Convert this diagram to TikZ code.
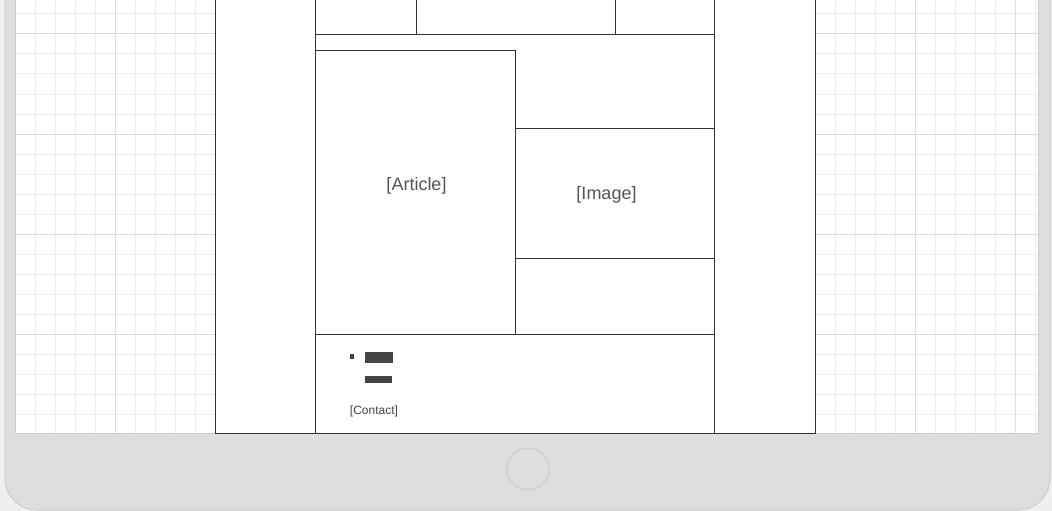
\documentclass[tikz,border=0pt]{standalone}
\usepackage{fontspec}
\setmainfont{Liberation Sans}
\definecolor{bgout}{HTML}{EFEFEF}
\definecolor{framefill}{HTML}{DEDEDE}
\definecolor{frameline}{HTML}{CCCCCC}
\definecolor{gridminor}{HTML}{ECECEC}
\definecolor{gridmajor}{HTML}{DCDCDC}
\definecolor{wire}{HTML}{333333}
\definecolor{labelcol}{HTML}{555555}
\definecolor{barcol}{HTML}{444444}
\tikzset{
  wireline/.style={draw=wire, line width=1pt},
  biglabel/.style={text=labelcol, font=\fontsize{18}{21}\selectfont, inner sep=0pt},
  smalllabel/.style={text=barcol, font=\fontsize{12}{14}\selectfont, inner sep=0pt},
  barblock/.style={fill=barcol},
}
\begin{document}
\begin{tikzpicture}[x=1pt,y=-1pt]
\useasboundingbox (0,0) rectangle (1052,511);
\clip (0,0) rectangle (1052,511);
% outer background
\fill[bgout] (0,0) rectangle (1052,511);
% tablet frame
\draw[frameline, fill=framefill, line width=1pt, rounded corners=32] (5,-60) rectangle (1050,510);
% screen
\fill[white] (15,0) rectangle (1038,433);
\begin{scope}
  \clip (15,0) rectangle (1038,433);
  \foreach \x in {35,55,...,1035} \draw[gridminor, line width=1pt] (\x,0) -- (\x,433);
  \foreach \y in {14,34,...,414} \draw[gridminor, line width=1pt] (15,\y) -- (1038,\y);
  \foreach \x in {115,215,...,1015} \draw[gridmajor, line width=1pt] (\x,0) -- (\x,433);
  \foreach \y in {34,134,234,334} \draw[gridmajor, line width=1pt] (15,\y) -- (1038,\y);
\end{scope}
\draw[frameline, line width=1pt] (15,0) -- (15,433) -- (1038,433) -- (1038,0);
% wireframe page
\fill[white] (215,0) rectangle (815,433);
\draw[wireline] (215,-5) -- (215,433) -- (815,433) -- (815,-5);
\draw[wireline] (315,-5) -- (315,433);
\draw[wireline] (714,-5) -- (714,433);
\draw[wireline] (416,-5) -- (416,35);
\draw[wireline] (615,-5) -- (615,35);
\draw[wireline] (315,35) -- (714,35);
\draw[wireline] (315,51) rectangle (515,334);
\draw[wireline] (515,128) -- (714,128);
\draw[wireline] (515,258) -- (714,258);
\draw[wireline] (315,334) -- (714,334);
% labels
\node[biglabel] (article) at (416.5,186) {[Article]};
\node[biglabel] (image) at (606.5,195) {[Image]};
% footer
\fill[barblock] (349.5,354) rectangle (354,358.5);
\fill[barblock] (365,352) rectangle (393,362.5);
\fill[barblock] (365,376) rectangle (392,382.5);
\node[smalllabel] (contact) at (374,411.5) {[Contact]};
% home button
\node[draw=frameline, line width=1pt, circle, minimum size=42pt, inner sep=0pt] (home) at (528,469) {};
\end{tikzpicture}
\end{document}
